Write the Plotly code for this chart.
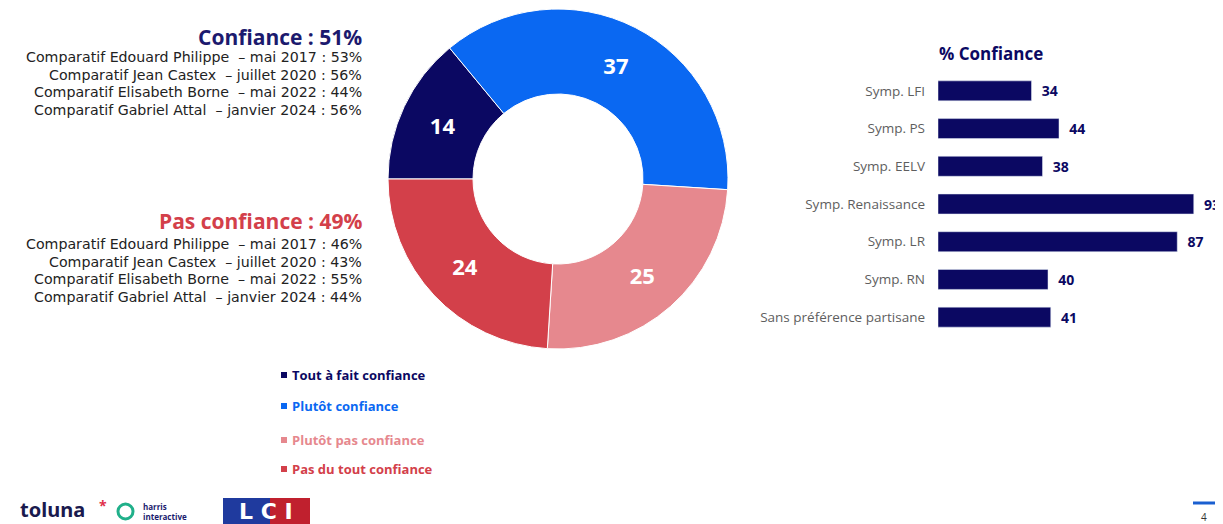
import plotly.graph_objects as go

W, H = 1223, 524
OFF = 8  # default page body margin
FW, FH = W - OFF, H - OFF

# Donut data
donut_labels = ["Tout à fait confiance", "Plutôt confiance", "Plutôt pas confiance", "Pas du tout confiance"]
donut_values = [14, 37, 25, 24]
donut_colors = ["#0b0862", "#0a68f2", "#e6888e", "#d3404a"]

# Bar data
bar_categories = ["Symp. LFI", "Symp. PS", "Symp. EELV", "Symp. Renaissance", "Symp. LR", "Symp. RN",
                  "Sans préférence partisane"]
bar_values = [34, 44, 38, 93, 87, 40, 41]

conf_title = "Confiance : 51%"
conf_lines = ["Comparatif Edouard Philippe  – mai 2017 : 53%",
              "Comparatif Jean Castex  – juillet 2020 : 56%",
              "Comparatif Elisabeth Borne  – mai 2022 : 44%",
              "Comparatif Gabriel Attal  – janvier 2024 : 56%"]
pas_title = "Pas confiance : 49%"
pas_lines = ["Comparatif Edouard Philippe  – mai 2017 : 46%",
             "Comparatif Jean Castex  – juillet 2020 : 43%",
             "Comparatif Elisabeth Borne  – mai 2022 : 55%",
             "Comparatif Gabriel Attal  – janvier 2024 : 44%"]

NAVY = "#0b0862"
FONT = "Open Sans"
LINE_FONT = "DejaVu Sans"


def px(x):
    return (x - OFF) / FW


def py(y):
    return 1 - (y - OFF) / FH


fig = go.Figure()

# Donut
cx, cy, r = 558, 179, 170
fig.add_trace(go.Pie(
    labels=donut_labels, values=donut_values, hole=0.5, sort=False, direction="clockwise",
    rotation=270,
    marker=dict(colors=donut_colors, line=dict(color="white", width=1)),
    textinfo="value", textposition="inside", insidetextorientation="horizontal",
    textfont=dict(family=FONT, size=22, color="white", weight="bold"),
    domain=dict(x=[px(cx - r), px(cx + r)], y=[py(cy + r), py(cy - r)]),
    showlegend=False, hoverinfo="label+value",
))

# Bars
fig.add_trace(go.Bar(
    x=bar_values, y=bar_categories, orientation="h",
    marker=dict(color=NAVY), text=[str(v) for v in bar_values], texttemplate="  %{text}",
    textposition="outside",
    textfont=dict(family=FONT, size=14, color=NAVY, weight="bold"), cliponaxis=False,
    xaxis="x", yaxis="y", showlegend=False,
))

fig.update_layout(
    width=FW, height=FH, margin=dict(l=0, r=0, t=0, b=0),
    paper_bgcolor="white", plot_bgcolor="white",
    bargap=0.47,
    xaxis=dict(domain=[px(938), px(1213)], range=[0, 100], visible=False, fixedrange=True),
    yaxis=dict(domain=[py(336), py(72)], autorange="reversed", showgrid=False, showline=False,
               zeroline=False, ticks="", ticklabelstandoff=12,
               tickfont=dict(family=FONT, size=13.5, color="#5e5e5e")),
)

ann = []
# bar title
ann.append(dict(x=px(937), y=py(53), xref="paper", yref="paper", xanchor="left", yanchor="middle",
                text="<b>% Confiance</b>", showarrow=False, font=dict(family=FONT, size=17, color=NAVY)))

# left texts
ann.append(dict(x=px(364), y=py(37), xref="paper", yref="paper", xanchor="right", yanchor="middle",
                text="<b>" + conf_title + "</b>", showarrow=False, font=dict(family=FONT, size=21, color="#1c1a6e")))
for i, t in enumerate(conf_lines):
    ann.append(dict(x=px(364), y=py(57 + 17.5 * i), xref="paper", yref="paper", xanchor="right", yanchor="middle",
                    text=t, showarrow=False, font=dict(family=LINE_FONT, size=14.2, color="#222222")))
ann.append(dict(x=px(364), y=py(221), xref="paper", yref="paper", xanchor="right", yanchor="middle",
                text="<b>" + pas_title + "</b>", showarrow=False, font=dict(family=FONT, size=21, color="#d3404a")))
for i, t in enumerate(pas_lines):
    ann.append(dict(x=px(364), y=py(244 + 17.5 * i), xref="paper", yref="paper", xanchor="right", yanchor="middle",
                    text=t, showarrow=False, font=dict(family=LINE_FONT, size=14.2, color="#222222")))

# legend
leg_y = [375, 406, 440, 469]
shapes = []
for lab, col, yy in zip(donut_labels, donut_colors, leg_y):
    shapes.append(dict(type="rect", xref="paper", yref="paper", x0=px(281), x1=px(287), y0=py(yy + 3), y1=py(yy - 3),
                       fillcolor=col, line=dict(width=0)))
    ann.append(dict(x=px(290), y=py(yy), xref="paper", yref="paper", xanchor="left", yanchor="middle",
                    text="<b>" + lab + "</b>", showarrow=False, font=dict(family=FONT, size=13, color=col)))

# logos
ann.append(dict(x=px(18), y=py(509), xref="paper", yref="paper", xanchor="left", yanchor="middle",
                text="<b>toluna</b>", showarrow=False, font=dict(family="Noto Sans", size=20, color="#1a1a4e")))
ann.append(dict(x=px(97), y=py(505), xref="paper", yref="paper", xanchor="left", yanchor="middle",
                text="<b>*</b>", showarrow=False, font=dict(family=FONT, size=14, color="#e0304a")))
shapes.append(dict(type="circle", xref="paper", yref="paper", x0=px(118), x1=px(133), y0=py(519), y1=py(504),
                   line=dict(color="#20b08a", width=3)))
ann.append(dict(x=px(141), y=py(511), xref="paper", yref="paper", xanchor="left", yanchor="middle",
                text="<b>harris<br>interactive</b>", showarrow=False, align="left",
                font=dict(family=FONT, size=8, color="#1a1a6e")))
shapes.append(dict(type="rect", xref="paper", yref="paper", x0=px(223), x1=px(270), y0=py(524), y1=py(498),
                   fillcolor="#1f3a9e", line=dict(width=0)))
shapes.append(dict(type="rect", xref="paper", yref="paper", x0=px(270), x1=px(310), y0=py(524), y1=py(498),
                   fillcolor="#c0202e", line=dict(width=0)))
ann.append(dict(x=px(266), y=py(511), xref="paper", yref="paper", xanchor="center", yanchor="middle",
                text="<b>L C I</b>", showarrow=False, font=dict(family="DejaVu Sans", size=22, color="white")))

# page number
shapes.append(dict(type="line", xref="paper", yref="paper", x0=px(1193), x1=px(1215), y0=py(503), y1=py(503),
                   line=dict(color="#1a5fd0", width=3)))
ann.append(dict(x=px(1204), y=py(517), xref="paper", yref="paper", xanchor="center", yanchor="middle",
                text="4", showarrow=False, font=dict(family=FONT, size=10, color="#333333")))

fig.update_layout(annotations=ann, shapes=shapes)
fig.write_html("out.html")
